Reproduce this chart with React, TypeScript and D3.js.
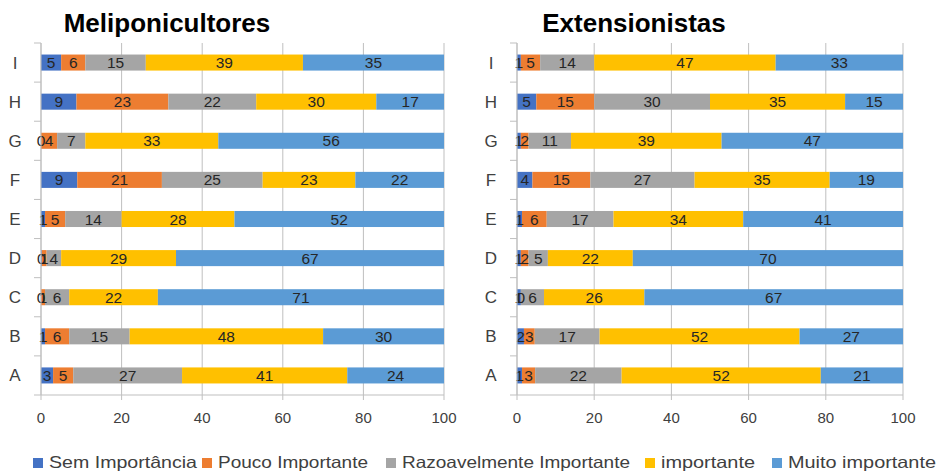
import React from "react";
import * as d3 from "d3";

const categories = ["A", "B", "C", "D", "E", "F", "G", "H", "I"];
const seriesNames = ["Sem Importância", "Pouco Importante", "Razoavelmente Importante", "importante", "Muito importante"];
const seriesColors = ["#4472C4", "#ED7D31", "#A5A5A5", "#FFC000", "#5B9BD5"];
const xTicks = [0, 20, 40, 60, 80, 100];

// Meliponicultores (%), per category A..I (labels show rounded values)
const meliSem = [3, 1, 0, 0.2, 1, 9, 0, 8.8, 5];
const meliPouco = [5, 6, 1, 1.2, 5, 21, 4, 22.8, 6];
const meliRazo = [27, 15, 6, 3.6, 14, 25, 7, 21.8, 15];
const meliImp = [41, 48, 22, 28.5, 28, 23, 33, 29.8, 39];
const meliMuito = [24, 30, 71, 66.5, 52, 22, 56, 16.8, 35];

// Extensionistas (%), per category A..I
const extSem = [1.3, 1.8, 1, 1, 1.3, 4, 1, 5, 1];
const extPouco = [3.4, 2.8, 0, 2, 6.4, 15, 2, 15, 5];
const extRazo = [22.4, 16.8, 6, 5, 17.3, 27, 11, 30, 14];
const extImp = [51.6, 51.8, 26, 22, 33.6, 35, 39, 35, 47];
const extMuito = [21.3, 26.8, 67, 70, 41.4, 19, 47, 15, 33];

const W = 938;
const H = 472;
const TOP = 43;
const BOTTOM = 395;
const FONT = "'Liberation Sans', Arial, sans-serif";

type PanelProps = { title: string; series: number[][]; x0: number; x1: number; titleX: number };

function Panel({ title, series, x0, x1, titleX }: PanelProps) {
  const x = d3.scaleLinear().domain([0, 100]).range([x0, x1]);
  const order = [...categories].reverse(); // I on top
  const yOuter = d3.scaleBand<string>().domain(order).range([TOP, BOTTOM]).padding(0);
  const y = d3.scaleBand<string>().domain(order).range([TOP, BOTTOM]).paddingInner(0.59).paddingOuter(0.295);
  const rows = categories.map((c, i) => {
    const vals = series.map((s) => s[i]);
    let acc = 0;
    const segs = vals.map((v, k) => {
      const start = acc;
      acc += v;
      return { k, v, start, end: Math.min(acc, 100) };
    });
    return { c, segs };
  });
  const grid = "#BFBFBF";
  return (
    <g>
      <text x={titleX} y={32} textAnchor="middle" fontFamily={FONT} fontWeight="bold" fontSize={26} fill="#000">
        {title}
      </text>
      {xTicks.map((t) => (
        <line key={"g" + t} x1={x(t)} x2={x(t)} y1={TOP} y2={BOTTOM + 5} stroke={grid} strokeWidth={1} />
      ))}
      {xTicks.map((t) => (
        <text key={"t" + t} x={x(t)} y={423} textAnchor="middle" fontFamily={FONT} fontSize={15} fill="#404040">
          {t}
        </text>
      ))}
      <line x1={x0} x2={x1} y1={BOTTOM} y2={BOTTOM} stroke={grid} strokeWidth={1} />
      {d3.range(categories.length + 1).map((k) => {
        const yy = TOP + k * yOuter.step();
        return <line key={"yt" + k} x1={x0 - 7} x2={x0} y1={yy} y2={yy} stroke={grid} strokeWidth={1} />;
      })}
      {rows.map((r) => (
        <g key={r.c}>
          <text
            x={x0 - 26}
            y={(yOuter(r.c) as number) + yOuter.bandwidth() / 2 + 6}
            textAnchor="middle"
            fontFamily={FONT}
            fontSize={17}
            fill="#404040"
          >
            {r.c}
          </text>
          {r.segs.map((s) => (
            <rect
              key={s.k}
              x={x(s.start)}
              y={y(r.c)}
              width={Math.max(0, x(s.end) - x(s.start))}
              height={y.bandwidth()}
              fill={seriesColors[s.k]}
            />
          ))}
          {r.segs.map((s) => (
            <text
              key={"l" + s.k}
              x={x((s.start + s.end) / 2)}
              y={(y(r.c) as number) + y.bandwidth() / 2 + 5.5}
              textAnchor="middle"
              fontFamily={FONT}
              fontSize={15.5}
              fill="#262626"
            >
              {Math.round(s.v)}
            </text>
          ))}
        </g>
      ))}
      <line x1={x0} x2={x0} y1={TOP} y2={BOTTOM} stroke={grid} strokeWidth={1} />
    </g>
  );
}

const legendX = [33, 202, 386, 645, 772];
const legendTextW = [148, 150, 228, 94, 148];

export default function App() {
  const meli = [meliSem, meliPouco, meliRazo, meliImp, meliMuito];
  const ext = [extSem, extPouco, extRazo, extImp, extMuito];
  return (
    <svg width={W} height={H} style={{ position: "absolute", left: 0, top: 0, background: "#fff" }}>
      <rect width={W} height={H} fill="#fff" />
      <Panel title="Meliponicultores" series={meli} x0={41} x1={444} titleX={167} />
      <Panel title="Extensionistas" series={ext} x0={517} x1={903} titleX={634} />
      {seriesNames.map((n, i) => (
        <g key={n} transform={`translate(${legendX[i]},0)`}>
          <rect x={0} y={458} width={10} height={10} fill={seriesColors[i]} />
          <text
            x={16}
            y={468}
            fontFamily={FONT}
            fontSize={16.5}
            fill="#404040"
            textLength={legendTextW[i]}
            lengthAdjust="spacingAndGlyphs"
          >
            {n}
          </text>
        </g>
      ))}
    </svg>
  );
}
